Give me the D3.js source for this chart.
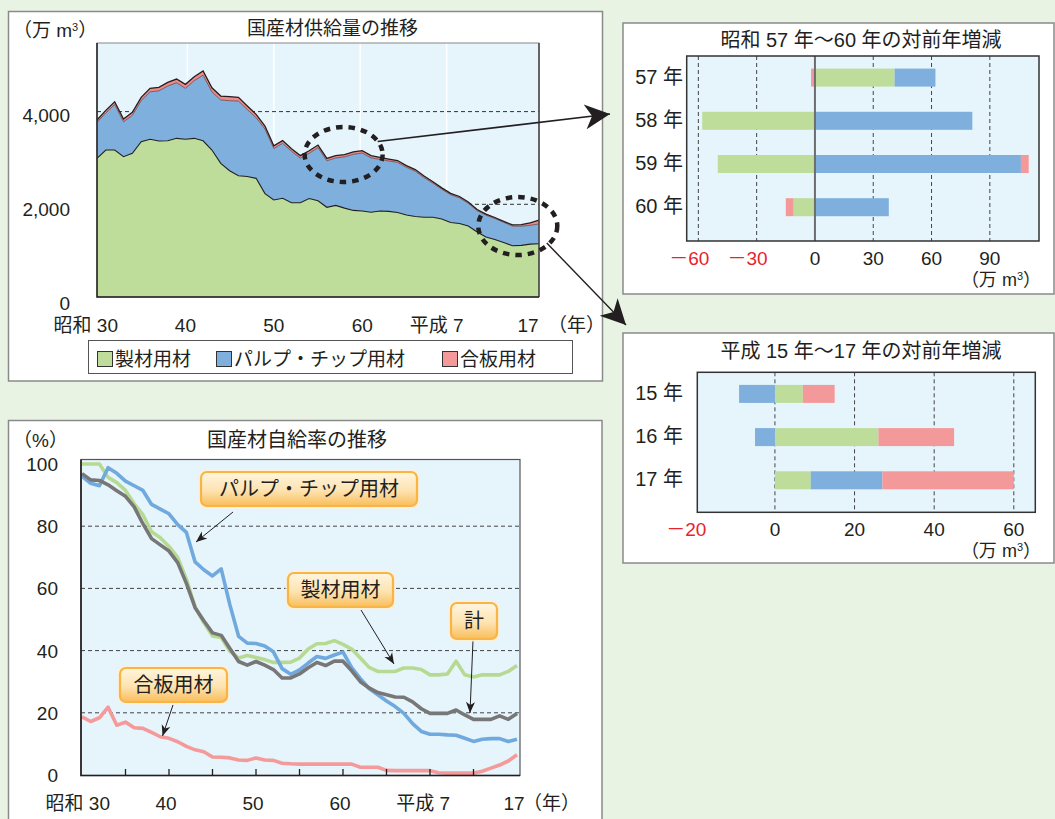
<!DOCTYPE html>
<html><head><meta charset="utf-8">
<script src="https://cdn.jsdelivr.net/npm/d3@7"></script>
<style>
body{margin:0;background:#e9f3e4;}
svg text{font-family:"Liberation Sans","Noto Sans CJK JP",sans-serif;fill:#231f20;}
</style></head><body>
<svg id="c" width="1055" height="819"></svg>
<script>
// ---------------- DATA ----------------
const years = d3.range(1955, 2006);
// 国産材供給量（万m3）
const supplySawmill = [2992,3171,3171,3026,3100,3350,3402,3365,3371,3423,3402,3423,3371,3171,2884,2724,2616,2600,2560,2230,2092,2129,2034,2034,2125,2077,1935,1976,1918,1868,1857,1827,1855,1848,1823,1769,1736,1719,1719,1682,1607,1585,1531,1402,1294,1240,1176,1107,1114,1140,1149];
const supplyPulp = [776,801,982,754,819,887,1025,1083,1180,1199,1101,1245,1414,1254,1367,1512,1611,1445,1311,1393,1112,1186,1111,961,976,1146,1003,1024,1105,1211,1249,1175,1113,1087,1081,1029,978,857,736,643,600,555,491,460,472,453,437,422,413,408,426];
const supplyPlywood = [50,55,60,60,65,70,75,75,80,80,85,85,90,90,85,85,80,75,70,65,60,60,55,55,55,55,52,50,50,54,50,48,45,42,40,38,36,34,32,30,30,28,27,25,24,22,20,26,34,53,86];
// 国産材自給率（%）
const rateTotal = [96.9,94.9,94.7,93.3,91.4,89.6,86.2,80.8,76.0,74.0,72.0,68.3,61.6,53.8,49.6,45.7,44.9,40.7,36.5,35.3,36.5,35.3,33.9,31.2,31.2,32.5,34.5,36.2,35.2,36.6,36.6,33.5,30.0,28.0,26.5,25.8,25.1,25.0,23.5,21.3,19.8,19.8,19.8,20.9,19.3,17.9,17.9,17.9,19.0,17.9,19.8];
const rateSawmill = [100,100,100,95.7,94.0,91.5,87.2,83.7,78.2,76.3,73.5,70.0,63.0,54.0,49.0,44.7,44.2,39.8,37.6,38.4,37.8,37.1,36.2,36.2,36.3,37.6,40.5,42.2,42.3,43.2,42.0,40.5,37.6,34.6,33.3,33.3,33.3,34.4,34.4,33.9,32.2,32.2,32.5,36.6,32.2,31.5,32.2,32.2,32.2,33.3,35.2];
const ratePulp = [96,93.8,93,98.8,97,94.5,93,91.5,87,85.5,84,80.5,78,68.5,66,64,66.3,54.7,44.6,42.4,42.3,41.5,39.6,34.2,32.4,33.8,36,38.1,37.5,38.6,39.5,34.5,31,27.8,25.8,23.8,22,19.8,16.5,14,13.1,13.1,12.9,12.8,11.8,10.8,11.5,11.7,11.7,10.8,11.5];
const ratePlywood = [18.7,17.2,18.4,21.8,16.0,17.0,15.2,15.0,13.7,12.3,11.8,10.7,9.2,8.1,7.5,5.8,5.7,5.5,4.8,4.7,5.5,4.8,4.7,3.8,3.6,3.5,3.5,3.5,3.5,3.5,3.5,3.5,2.5,2.5,2.5,1.5,1.4,1.4,1.4,1.4,1.4,0.7,0.6,0.6,0.6,0.6,1.2,2.2,3.2,4.5,6.5];
// 年ラベル
const xTickYears = [1955,1965,1975,1985,1995,2005];
const xTickLabels = ["昭和 30","40","50","60","平成 7","17"];
const supplyTicks = [0,2000,4000];
const rateTicks = [0,20,40,60,80,100];
// 対前年増減（万m3）
const change1Cats = ["57 年","58 年","59 年","60 年"];
const change1Sawmill = [41,-58,-50,-11];
const change1Pulp = [21,81,106,38];
const change1Plywood = [-2,0,4,-4];
const change1Ticks = [-60,-30,0,30,60,90];
const change2Cats = ["15 年","16 年","17 年"];
const change2Sawmill = [7,26,9];
const change2Pulp = [-9,-5,18];
const change2Plywood = [8,19,33];
const change2Ticks = [-20,0,20,40,60];
const seriesNames = ["製材用材","パルプ・チップ用材","合板用材"];

// ---------------- STYLE ----------------
const C = {green:"#bedd9b", blue:"#7eafdd", pink:"#f4999a", plotBg:"#e6f4fc",
  lgreen:"#b7da92", lblue:"#70a9dd", lgray:"#777777", lpink:"#f59a9a", red:"#e8232b", ink:"#231f20"};
const FS = 19;
const svg = d3.select("#c");
const defs = svg.append("defs");
const grad = defs.append("linearGradient").attr("id","cg").attr("x1",0).attr("y1",0).attr("x2",0).attr("y2",1);
grad.append("stop").attr("offset","0%").attr("stop-color","#fff5df");
grad.append("stop").attr("offset","55%").attr("stop-color","#fde3b0");
grad.append("stop").attr("offset","100%").attr("stop-color","#f9bd5a");
function marker(id, w, h, notch){
  defs.append("marker").attr("id",id).attr("markerUnits","userSpaceOnUse")
    .attr("viewBox",`${-w-1} ${-h/2-1} ${w+2} ${h+2}`).attr("markerWidth",w+2).attr("markerHeight",h+2)
    .attr("refX",0).attr("refY",0).attr("orient","auto")
    .append("path").attr("d",`M0,0L${-w},${-h/2}L${-w+notch},0L${-w},${h/2}Z`).attr("fill",C.ink);
}
marker("big",25,25,7);
marker("small",11,9,3);

function panel(x,y,w,h){
  svg.append("rect").attr("x",x).attr("y",y).attr("width",w).attr("height",h)
    .attr("fill","#fff").attr("stroke","#8a8a8a").attr("stroke-width",1.5);
}
panel(8.5,11.5,594,369.5);
panel(623,23,431,271);
panel(623,333,431,230);
panel(8.5,420.5,593.5,420);

function unitLabel(x,y,anchor,fs){
  const t = svg.append("text").attr("x",x).attr("y",y).attr("font-size",fs||FS).attr("text-anchor",anchor||"start");
  t.append("tspan").text("（万 m");
  t.append("tspan").attr("font-size",11).attr("dy",-6).text("3");
  t.append("tspan").attr("dy",6).text("）");
}

// ---------------- TOP-LEFT: 国産材供給量の推移 ----------------
{
  const x = d3.scaleLinear([1955,2005],[97,539]);
  const y = d3.scaleLinear([0,5480],[297,43]);
  svg.append("rect").attr("x",97).attr("y",43).attr("width",442).attr("height",254).attr("fill",C.plotBg);
  svg.append("g").selectAll("line").data([1965,1975,1985,1995]).join("line")
    .attr("x1",d=>x(d)-(d-1975)*0.2).attr("x2",d=>x(d)-(d-1975)*0.2).attr("y1",43).attr("y2",297).attr("stroke","#fff").attr("stroke-width",1.5);
  svg.append("g").selectAll("line").data(supplyTicks.filter(d=>d>0)).join("line")
    .attr("x1",97).attr("x2",539).attr("y1",d=>y(d)).attr("y2",d=>y(d))
    .attr("stroke","#333").attr("stroke-dasharray","4 3").attr("stroke-width",1);
  const rows = years.map((yr,i)=>({year:yr,sawmill:supplySawmill[i],pulp:supplyPulp[i],plywood:supplyPlywood[i]}));
  const st = d3.stack().keys(["sawmill","pulp","plywood"])(rows);
  const area = d3.area().x(d=>x(d.data.year)).y0(d=>y(d[0])).y1(d=>y(d[1]));
  const cols = [C.green,C.blue,"#f08a8a"];
  svg.append("g").selectAll("path").data(st).join("path").attr("d",area).attr("fill",(d,i)=>cols[i]);
  const top = d3.line().x(d=>x(d.data.year)).y(d=>y(d[1]));
  svg.append("path").attr("d",top(st[1])).attr("fill","none").attr("stroke","#5a3a3a").attr("stroke-width",0.7);
  svg.append("path").attr("d",top(st[0])).attr("fill","none").attr("stroke",C.ink).attr("stroke-width",1.1);
  svg.append("path").attr("d",top(st[2])).attr("fill","none").attr("stroke",C.ink).attr("stroke-width",1.3);
  // frame
  svg.append("rect").attr("x",97).attr("y",43).attr("width",442).attr("height",254).attr("fill","none").attr("stroke","#888").attr("stroke-width",1);
  svg.append("line").attr("x1",539).attr("x2",539).attr("y1",43).attr("y2",297).attr("stroke","#333").attr("stroke-width",1.3);
  svg.append("path").attr("d","M97,43V297H539").attr("fill","none").attr("stroke",C.ink).attr("stroke-width",1.5);
  // labels
  svg.append("g").selectAll("text").data(supplyTicks).join("text")
    .attr("x",70).attr("y",d=>y(d)+10+(d===0?3:d===2000?1.5:0)).attr("text-anchor","end").attr("font-size",FS)
    .text(d=>d3.format(",")(d));
  svg.append("g").selectAll("text").data(xTickYears).join("text")
    .attr("x",(d,i)=> i===0 ? x(d)+21 : i===4 ? x(d)+13 : x(d)-(i===5?11:0))
    .attr("y",332).attr("font-size",FS)
    .attr("text-anchor",(d,i)=> i===0||i===4 ? "end":"middle")
    .text((d,i)=>xTickLabels[i]);
  svg.append("text").attr("x",548).attr("y",332).attr("font-size",FS).text("（年）");
  unitLabel(13,37);
  svg.append("text").attr("x",247).attr("y",35).attr("font-size",FS).text("国産材供給量の推移");
  // legend
  svg.append("rect").attr("x",88.5).attr("y",340.5).attr("width",484).attr("height",33).attr("fill","#fff").attr("stroke","#555").attr("stroke-width",1);
  const lx = [97,216,442];
  const lg = svg.append("g").selectAll("g").data(seriesNames).join("g");
  lg.append("rect").attr("x",(d,i)=>lx[i]+0.5).attr("y",351.5).attr("width",15).attr("height",15)
    .attr("fill",(d,i)=>[C.green,C.blue,C.pink][i]).attr("stroke","#333").attr("stroke-width",1);
  lg.append("text").attr("x",(d,i)=>lx[i]+18).attr("y",366).attr("font-size",FS).text(d=>d);

  // dotted ellipses + arrows
  const e1 = {cx:x(1982.9), cy:y(3074), rx:39, ry:27.5};
  const e2 = {cx:x(2002.6), cy:y(1531), rx:39.5, ry:29};
  svg.append("line").attr("x1",e1.cx+34).attr("y1",e1.cy-13).attr("x2",610).attr("y2",114)
    .attr("stroke",C.ink).attr("stroke-width",1.6).attr("marker-end","url(#big)");
  svg.append("line").attr("x1",e2.cx+29).attr("y1",e2.cy+17).attr("x2",626).attr("y2",325)
    .attr("stroke",C.ink).attr("stroke-width",1.4).attr("marker-end","url(#big)");
  [e1,e2].forEach(e=>svg.append("ellipse").attr("cx",e.cx).attr("cy",e.cy).attr("rx",e.rx).attr("ry",e.ry)
    .attr("fill","none").attr("stroke",C.ink).attr("stroke-width",4.5).attr("stroke-dasharray","6.5 6"));
}

// ---------------- RIGHT: 対前年増減 ----------------
function changeChart(opt){
  const {cats,saw,pulp,ply,ticks,domain,left,right,top,bottom,title,titleY,zeroSolid} = opt;
  const x = d3.scaleLinear(domain,[left,right]);
  const step = 43.2;
  const yb = d3.scaleBand(cats,[top, top+step*cats.length]);
  svg.append("rect").attr("x",left).attr("y",top).attr("width",right-left).attr("height",bottom-top).attr("fill",C.plotBg);
  svg.append("g").selectAll("line").data(ticks.filter(t=>t>domain[0] && !(zeroSolid && t===0))).join("line")
    .attr("x1",d=>x(d)).attr("x2",d=>x(d)).attr("y1",top).attr("y2",bottom)
    .attr("stroke","#444").attr("stroke-dasharray","4 3").attr("stroke-width",1);
  const rows = cats.map((c,i)=>({cat:c,sawmill:saw[i],pulp:pulp[i],plywood:ply[i]}));
  const st = d3.stack().keys(["sawmill","pulp","plywood"]).offset(d3.stackOffsetDiverging)(rows);
  const cols=[C.green,C.blue,C.pink];
  const bh = 18;
  svg.append("g").selectAll("g").data(st).join("g").attr("fill",(d,i)=>cols[i])
    .selectAll("rect").data(d=>d).join("rect")
    .attr("x",d=>x(Math.min(d[0],d[1]))).attr("width",d=>Math.abs(x(d[1])-x(d[0])))
    .attr("y",d=>yb(d.data.cat)+(step-bh)/2).attr("height",bh);
  if(zeroSolid) svg.append("line").attr("x1",x(0)).attr("x2",x(0)).attr("y1",top).attr("y2",bottom).attr("stroke","#6d6d6d").attr("stroke-width",2);
  svg.append("rect").attr("x",left).attr("y",top).attr("width",right-left).attr("height",bottom-top)
    .attr("fill","none").attr("stroke","#333").attr("stroke-width",1.5);
  svg.append("g").selectAll("text").data(cats).join("text")
    .attr("x",683).attr("y",d=>yb(d)+step/2+6).attr("text-anchor","end").attr("font-size",FS+1).text(d=>d);
  svg.append("g").selectAll("text").data(ticks).join("text")
    .attr("x",d=> d<0 ? x(d)+11 : x(d)).attr("y",bottom+24).attr("font-size",FS)
    .attr("text-anchor",d=>d<0?"end":"middle").style("fill",d=>d<0?C.red:C.ink)
    .text(d=> d<0 ? "－"+Math.abs(d) : d);
  unitLabel(1041,bottom+45,"end",18);
  svg.append("text").attr("x",861).attr("y",titleY).attr("text-anchor","middle").attr("font-size",FS+1).text(title);
}
changeChart({cats:change1Cats,saw:change1Sawmill,pulp:change1Pulp,ply:change1Plywood,ticks:change1Ticks,
  domain:[-66,115.3],left:686.7,right:1039,top:56,bottom:241,title:"昭和 57 年～60 年の対前年増減",titleY:47,zeroSolid:true});
changeChart({cats:change2Cats,saw:change2Sawmill,pulp:change2Pulp,ply:change2Plywood,ticks:change2Ticks,
  domain:[-19.5,65.4],left:697.3,right:1035.3,top:372.3,bottom:512.3,title:"平成 15 年～17 年の対前年増減",titleY:358,zeroSolid:false});

// ---------------- BOTTOM-LEFT: 国産材自給率の推移 ----------------
{
  const x = d3.scaleLinear([1955,2005],[82,517]);
  const y = d3.scaleLinear([0,100],[775,464]);
  svg.append("rect").attr("x",81).attr("y",459.5).attr("width",439).attr("height",316).attr("fill",C.plotBg);
  svg.append("g").selectAll("line").data(rateTicks.filter(d=>d>0&&d<100)).join("line")
    .attr("x1",81).attr("x2",520).attr("y1",d=>y(d)).attr("y2",d=>y(d))
    .attr("stroke","#444").attr("stroke-dasharray","4 3").attr("stroke-width",1);
  const line = d3.line().x((d,i)=>x(years[i])).y(d=>y(d)).curve(d3.curveLinear);
  const series = [[rateSawmill,C.lgreen],[ratePulp,C.lblue],[rateTotal,C.lgray],[ratePlywood,C.lpink]];
  svg.append("g").selectAll("path").data(series).join("path")
    .attr("d",d=>line(d[0])).attr("fill","none").attr("stroke",d=>d[1]).attr("stroke-width",3.6).attr("stroke-linejoin","round");
  svg.append("rect").attr("x",81).attr("y",459.5).attr("width",439).attr("height",316).attr("fill","none").attr("stroke","#555").attr("stroke-width",1.2);
  svg.append("path").attr("d","M81,459.5V775.5H520").attr("fill","none").attr("stroke",C.ink).attr("stroke-width",1.6);
  svg.append("g").selectAll("line").data(d3.range(1960,2005,5)).join("line")
    .attr("x1",d=>x(d)).attr("x2",d=>x(d)).attr("y1",775).attr("y2",769).attr("stroke",C.ink).attr("stroke-width",1.3);
  svg.append("g").selectAll("text").data(rateTicks).join("text")
    .attr("x",58).attr("y",d=>y(d)+7).attr("text-anchor","end").attr("font-size",FS).text(d=>d);
  svg.append("g").selectAll("text").data(xTickYears).join("text")
    .attr("x",(d,i)=> i===0 ? x(d)+28 : i===4 ? x(d)+20 : x(d)-3)
    .attr("y",810).attr("font-size",FS)
    .attr("text-anchor",(d,i)=> i===0||i===4 ? "end":"middle")
    .text((d,i)=>xTickLabels[i]);
  svg.append("text").attr("x",523).attr("y",810).attr("font-size",FS).text("（年）");
  svg.append("text").attr("x",13).attr("y",447).attr("font-size",FS).text("（%）");
  svg.append("text").attr("x",207).attr("y",447).attr("font-size",FS+1).text("国産材自給率の推移");

  // callouts
  const callouts = [
    {t:"パルプ・チップ用材", x:201, y:472, w:216, h:34, ax1:233, ay1:512, ax2:196, ay2:542},
    {t:"製材用材", x:288, y:573, w:105, h:34, ax1:361, ay1:610, ax2:394, ay2:664},
    {t:"計", x:451, y:603, w:46, h:36, ax1:473, ay1:640, ax2:470, ay2:713},
    {t:"合板用材", x:120, y:668, w:107, h:34, ax1:173, ay1:705, ax2:162.5, ay2:736}
  ];
  const cg = svg.append("g").selectAll("g").data(callouts).join("g");
  cg.append("line").attr("x1",d=>d.ax1).attr("y1",d=>d.ay1).attr("x2",d=>d.ax2).attr("y2",d=>d.ay2)
    .attr("stroke",C.ink).attr("stroke-width",1).attr("marker-end","url(#small)");
  cg.append("rect").attr("x",d=>d.x-2.5).attr("y",d=>d.y-2.5).attr("width",d=>d.w+5).attr("height",d=>d.h+5)
    .attr("rx",8).attr("fill","#fdf0d6").attr("opacity",0.9);
  cg.append("rect").attr("x",d=>d.x).attr("y",d=>d.y).attr("width",d=>d.w).attr("height",d=>d.h)
    .attr("rx",6).attr("fill","url(#cg)").attr("stroke","#f8b445").attr("stroke-width",2.2);
  cg.append("text").attr("x",d=>d.x+d.w/2).attr("y",d=>d.y+d.h/2+7).attr("text-anchor","middle")
    .attr("font-size",FS+1).text(d=>d.t);
}
</script>
</body></html>
